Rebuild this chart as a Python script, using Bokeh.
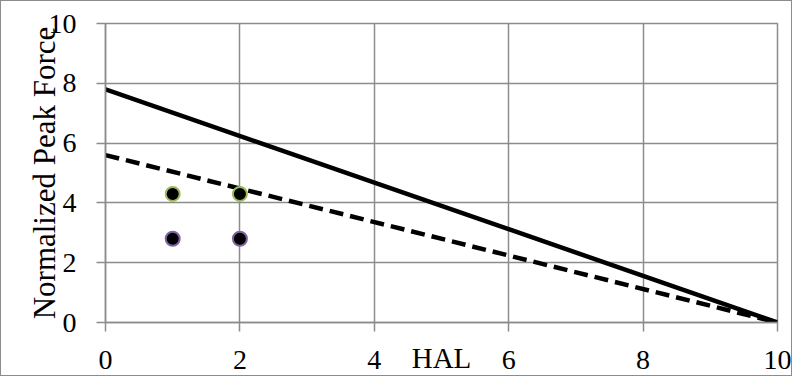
from bokeh.plotting import figure
from bokeh.models import FixedTicker, Range1d
from bokeh.embed import file_html
from bokeh.resources import INLINE

# Data
hal_line = [0, 10]
solid_force = [7.8, 0]
dashed_force = [5.6, 0]
upper_x = [1, 2]
upper_y = [4.3, 4.3]
lower_x = [1, 2]
lower_y = [2.8, 2.8]
tick_values = [0, 2, 4, 6, 8, 10]

p = figure(width=792, height=376, output_backend="svg", toolbar_location=None,
           x_range=Range1d(0, 10), y_range=Range1d(0, 10),
           min_border_left=104, min_border_right=16, min_border_top=22, min_border_bottom=55)
p.styles = {"border": "1px solid #8c8c8c"}

grid_col = "#8c8c8c"
for ax in (p.xaxis[0], p.yaxis[0]):
    ax.ticker = FixedTicker(ticks=tick_values)
    ax.minor_tick_line_color = None
    ax.major_tick_in = 0
    ax.major_tick_out = 9
    ax.axis_line_color = grid_col
    ax.axis_line_width = 1.5
    ax.major_tick_line_color = grid_col
    ax.major_tick_line_width = 1.5
    ax.major_label_text_font = "Liberation Serif"
    ax.major_label_text_font_size = "28px"
    ax.major_label_text_color = "black"
    ax.axis_label_text_font = "Liberation Serif"
    ax.axis_label_text_font_style = "normal"
    ax.axis_label_text_color = "black"

p.xaxis.axis_label = "HAL"
p.xaxis.axis_label_text_font_size = "29px"
p.xaxis.axis_label_standoff = -30
p.xaxis.major_label_standoff = 19

p.yaxis.axis_label = "Normalized Peak Force"
p.yaxis.axis_label_text_font_size = "31px"
p.yaxis.axis_label_standoff = -16
p.yaxis.major_label_standoff = 20

for g in (p.xgrid[0], p.ygrid[0]):
    g.ticker = FixedTicker(ticks=tick_values)
    g.grid_line_color = grid_col
    g.grid_line_width = 1.5
p.outline_line_color = grid_col
p.outline_line_width = 1.5

p.line(hal_line, solid_force, line_color="black", line_width=4.5)
p.line(hal_line, dashed_force, line_color="black", line_width=4.5, line_dash="14 7")
p.scatter(upper_x, upper_y, size=14, fill_color="black", line_color="#9bbb59", line_width=2)
p.scatter(lower_x, lower_y, size=14, fill_color="black", line_color="#8064a2", line_width=2)

open("out.html", "w").write(file_html(p, INLINE))
